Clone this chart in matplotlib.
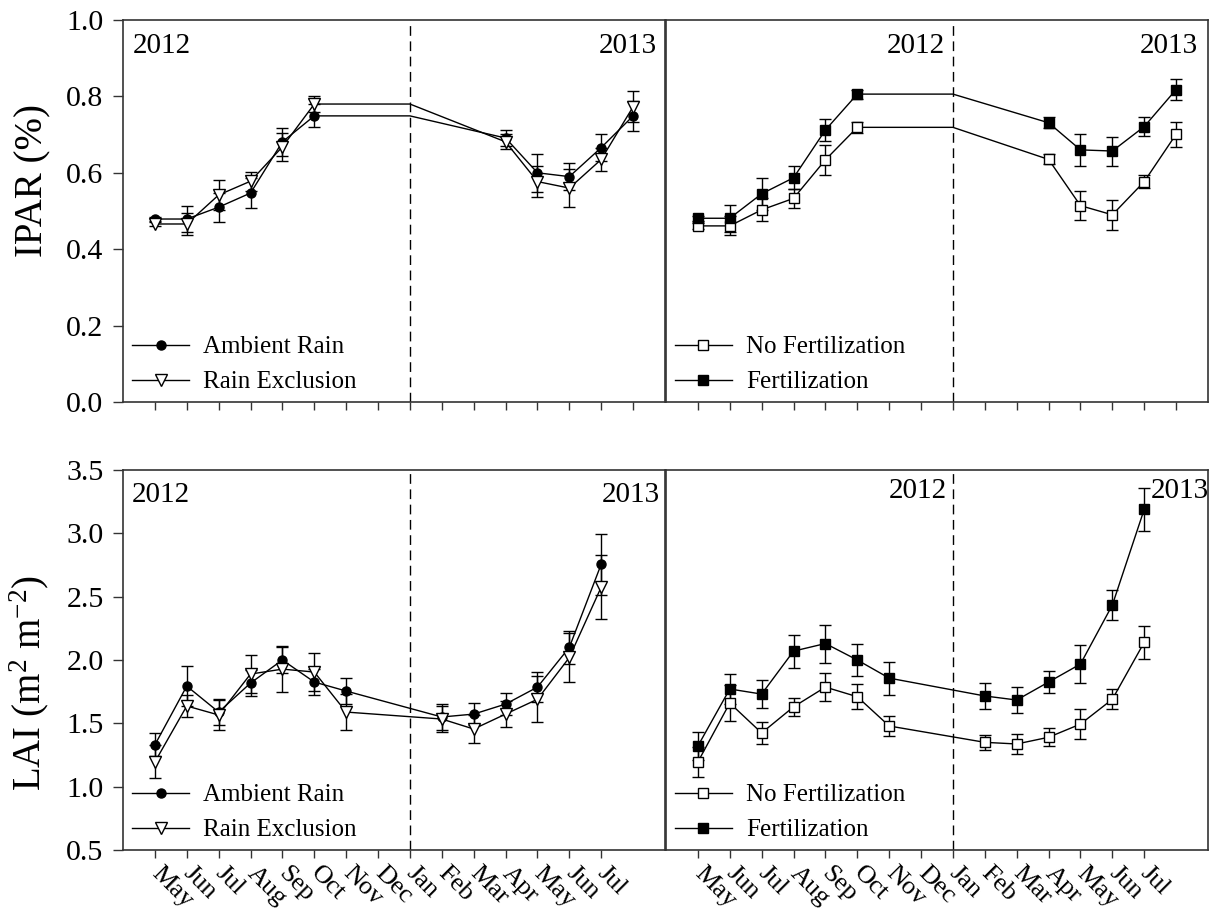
import matplotlib
matplotlib.use('Agg')
import matplotlib.pyplot as plt
from matplotlib.lines import Line2D
import numpy as np

plt.rcParams['font.family'] = ['Liberation Serif', 'DejaVu Serif']
plt.rcParams['mathtext.fontset'] = 'custom'
plt.rcParams['mathtext.rm'] = 'Liberation Serif'
plt.rcParams['mathtext.it'] = 'Liberation Serif:italic'

# month axis, May 2012 .. Jul 2013 (index 0..14)
months = ['May', 'Jun', 'Jul', 'Aug', 'Sep', 'Oct', 'Nov', 'Dec',
          'Jan', 'Feb', 'Mar', 'Apr', 'May', 'Jun', 'Jul']

# IPAR (%), sampled May-Oct 2012 and Apr-Aug 2013
ipar_x = [0, 1, 2, 3, 4, 5, 11, 12, 13, 14, 15]
ipar_ambient = [0.479, 0.479, 0.510, 0.547, 0.681, 0.749, 0.691, 0.600, 0.590, 0.666, 0.749]
ipar_ambient_se = [0.006, 0.035, 0.038, 0.040, 0.037, 0.030, 0.020, 0.050, 0.035, 0.035, 0.040]
ipar_exclusion = [0.466, 0.466, 0.542, 0.578, 0.668, 0.780, 0.681, 0.577, 0.560, 0.635, 0.773]
ipar_exclusion_se = [0.006, 0.030, 0.040, 0.025, 0.037, 0.020, 0.020, 0.040, 0.050, 0.030, 0.040]
ipar_nofert = [0.461, 0.461, 0.503, 0.533, 0.634, 0.719, 0.635, 0.514, 0.490, 0.577, 0.701]
ipar_nofert_se = [0.008, 0.025, 0.030, 0.025, 0.040, 0.015, 0.013, 0.038, 0.040, 0.017, 0.033]
ipar_fert = [0.481, 0.481, 0.545, 0.587, 0.712, 0.806, 0.731, 0.660, 0.657, 0.721, 0.818]
ipar_fert_se = [0.006, 0.035, 0.042, 0.030, 0.030, 0.012, 0.015, 0.042, 0.038, 0.024, 0.027]

# LAI (m2 m-2), sampled May-Nov 2012 and Feb-Jul 2013
lai_x = [0, 1, 2, 3, 4, 5, 6, 9, 10, 11, 12, 13, 14]
lai_ambient = [1.33, 1.794, 1.589, 1.818, 2.00, 1.826, 1.755, 1.55, 1.573, 1.652, 1.786, 2.10, 2.757]
lai_ambient_se = [0.09, 0.16, 0.10, 0.10, 0.10, 0.10, 0.10, 0.10, 0.09, 0.09, 0.12, 0.13, 0.24]
lai_exclusion = [1.195, 1.637, 1.566, 1.889, 1.928, 1.905, 1.589, 1.534, 1.455, 1.573, 1.69, 2.02, 2.576]
lai_exclusion_se = [0.13, 0.09, 0.12, 0.15, 0.18, 0.15, 0.14, 0.10, 0.11, 0.10, 0.18, 0.19, 0.25]
lai_nofert = [1.195, 1.66, 1.424, 1.63, 1.786, 1.71, 1.479, 1.35, 1.337, 1.39, 1.494, 1.69, 2.14]
lai_nofert_se = [0.12, 0.14, 0.09, 0.07, 0.11, 0.10, 0.08, 0.06, 0.08, 0.07, 0.12, 0.08, 0.13]
lai_fert = [1.321, 1.771, 1.731, 2.07, 2.13, 2.00, 1.857, 1.716, 1.684, 1.826, 1.968, 2.434, 3.19]
lai_fert_se = [0.11, 0.12, 0.11, 0.13, 0.15, 0.13, 0.13, 0.10, 0.10, 0.09, 0.15, 0.12, 0.17]

JAN = 8          # position of the year break
SPINE = '#333333'

fig = plt.figure(figsize=(12.14, 9.14), dpi=100)
W, H = 1214, 914
def box(x0, y0, x1, y1):
    return [x0 / W, 1 - y1 / H, (x1 - x0) / W, (y1 - y0) / H]

ax_tl = fig.add_axes(box(123, 20, 665, 402))
ax_tr = fig.add_axes(box(666, 20, 1208, 402))
ax_bl = fig.add_axes(box(123, 470, 665, 850))
ax_br = fig.add_axes(box(666, 470, 1208, 850))


def series(ax, x, y, se, marker, fill, label, bridge=False):
    x = np.asarray(x)
    y = np.asarray(y)
    ax.errorbar(x, y, yerr=se, fmt='none', ecolor='black', elinewidth=1,
                capsize=4.3, capthick=1, zorder=2)
    lx, ly = x, y
    if bridge:
        # 2012 line is carried flat to January before joining 2013
        k = int(np.sum(x < JAN))
        lx = np.concatenate([x[:k], [JAN], x[k:]])
        ly = np.concatenate([y[:k], [y[k - 1]], y[k:]])
    ax.plot(lx, ly, '-', color='black', lw=1, zorder=3)
    mk = dict(marker=marker, ms={'o': 6.5, 'v': 8.5, 's': 7.5}[marker],
              mfc='black' if fill else 'white', mec='black', mew=1)
    ax.plot(x, y, ls='none', zorder=4, **mk)
    return Line2D([], [], color='black', lw=1, label=label, **mk)


def style(ax, handles, ylim, yticks, nticks, left, labels):
    ax.set_xlim(-1, 16)
    ax.set_ylim(*ylim)
    ax.set_xticks(range(nticks))
    ax.axvline(JAN, color='black', lw=1, ls=(0, (7, 4)), zorder=1)
    for s in ax.spines.values():
        s.set_color(SPINE)
        s.set_linewidth(1.2)
    ax.tick_params(axis='x', direction='out', length=5.5, width=1, color=SPINE)
    if labels:
        ax.set_xticklabels(months[:nticks], rotation=-45, ha='left', va='center',
                           rotation_mode='anchor', fontsize=19)
        ax.tick_params(axis='x', pad=9)
    else:
        ax.set_xticklabels([])
    if left:
        ax.set_yticks(yticks)
        ax.set_yticklabels(['%.1f' % v for v in yticks], fontsize=21.5)
        ax.tick_params(axis='y', direction='out', length=7, width=1, color=SPINE, pad=7)
    else:
        ax.set_yticks([])
    ax.legend(handles=handles, loc='lower left', frameon=False, fontsize=18,
              handlelength=2.3, handletextpad=0.55, labelspacing=0.5,
              borderaxespad=0.05, borderpad=0.3)


def years(ax, y, left_x, left_ha, right_x):
    ax.text(left_x, y, '2012', transform=ax.transAxes, ha=left_ha,
            va='baseline', fontsize=21)
    ax.text(right_x, y, '2013', transform=ax.transAxes, ha='right',
            va='baseline', fontsize=21)


h_tl = [series(ax_tl, ipar_x, ipar_ambient, ipar_ambient_se, 'o', True, 'Ambient Rain', True),
        series(ax_tl, ipar_x, ipar_exclusion, ipar_exclusion_se, 'v', False, 'Rain Exclusion', True)]
h_tr = [series(ax_tr, ipar_x, ipar_nofert, ipar_nofert_se, 's', False, 'No Fertilization', True),
        series(ax_tr, ipar_x, ipar_fert, ipar_fert_se, 's', True, 'Fertilization', True)]
h_bl = [series(ax_bl, lai_x, lai_ambient, lai_ambient_se, 'o', True, 'Ambient Rain'),
        series(ax_bl, lai_x, lai_exclusion, lai_exclusion_se, 'v', False, 'Rain Exclusion')]
h_br = [series(ax_br, lai_x, lai_nofert, lai_nofert_se, 's', False, 'No Fertilization'),
        series(ax_br, lai_x, lai_fert, lai_fert_se, 's', True, 'Fertilization')]

style(ax_tl, h_tl, (0, 1.0), np.arange(0, 1.01, 0.2), 16, True, False)
style(ax_tr, h_tr, (0, 1.0), np.arange(0, 1.01, 0.2), 16, False, False)
style(ax_bl, h_bl, (0.5, 3.5), np.arange(0.5, 3.51, 0.5), 15, True, True)
style(ax_br, h_br, (0.5, 3.5), np.arange(0.5, 3.51, 0.5), 15, False, True)

years(ax_tl, 0.914, 0.0185, 'left', 0.985)
years(ax_tr, 0.914, 0.515, 'right', 0.982)
years(ax_bl, 0.915, 0.0166, 'left', 0.991)
years(ax_br, 0.925, 0.518, 'right', 1.002)

ax_tl.set_ylabel('IPAR (%)', fontsize=28)
ax_tl.yaxis.set_label_coords(-0.132, 0.58)
ax_bl.set_ylabel('LAI (m$^2$ m$^{-2}$)', fontsize=28)
ax_bl.yaxis.set_label_coords(-0.132, 0.44)

fig.savefig('out.png', dpi=100)
